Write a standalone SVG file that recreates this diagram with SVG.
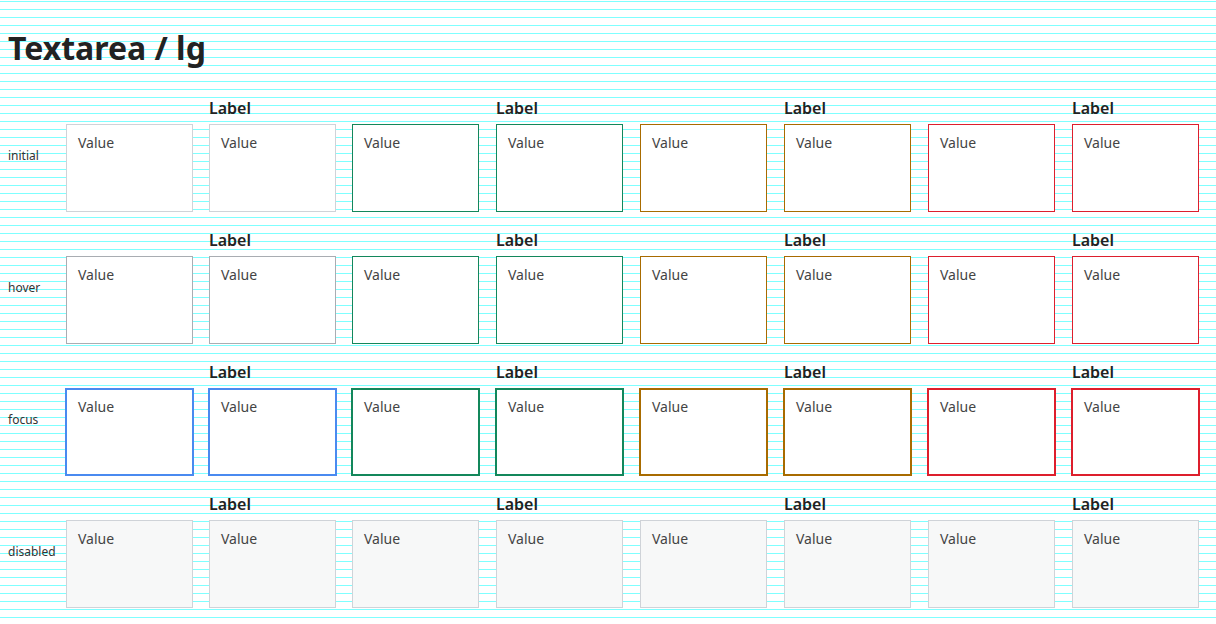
<svg xmlns="http://www.w3.org/2000/svg" width="1216" height="624" viewBox="0 0 1216 624">
<style>
text{font-family:"Noto Sans","Open Sans","DejaVu Sans",sans-serif}
.title{font-size:32px;font-weight:700;fill:#222}
.row{font-size:12px;fill:#333}
.lbl{font-size:16px;font-weight:600;fill:#222}
.val{font-size:14px;fill:#444}
.box{fill:#fff;stroke-width:1}
.n0{stroke:#cfd3d8}
.n1{stroke:#a9adb2}
.nf{stroke:#4a8af0;stroke-width:2}
.ok{stroke:#13875b}
.wa{stroke:#a86b00}
.er{stroke:#dd1f2d}
.f{stroke-width:2}
.dis{fill:#f7f8f8;stroke:#cfd3d8}
</style>
<rect width="1216" height="624" fill="#fff"/>
<g id="grid" fill="#00ffff" fill-opacity="0.5">
<rect x="0" y="1" width="1216" height="1"/><rect x="0" y="9" width="1216" height="1"/><rect x="0" y="17" width="1216" height="1"/><rect x="0" y="25" width="1216" height="1"/><rect x="0" y="33" width="1216" height="1"/><rect x="0" y="41" width="1216" height="1"/><rect x="0" y="49" width="1216" height="1"/><rect x="0" y="57" width="1216" height="1"/><rect x="0" y="65" width="1216" height="1"/><rect x="0" y="73" width="1216" height="1"/><rect x="0" y="81" width="1216" height="1"/><rect x="0" y="89" width="1216" height="1"/><rect x="0" y="97" width="1216" height="1"/><rect x="0" y="105" width="1216" height="1"/><rect x="0" y="113" width="1216" height="1"/><rect x="0" y="121" width="1216" height="1"/><rect x="0" y="129" width="1216" height="1"/><rect x="0" y="137" width="1216" height="1"/><rect x="0" y="145" width="1216" height="1"/><rect x="0" y="153" width="1216" height="1"/><rect x="0" y="161" width="1216" height="1"/><rect x="0" y="169" width="1216" height="1"/><rect x="0" y="177" width="1216" height="1"/><rect x="0" y="185" width="1216" height="1"/><rect x="0" y="193" width="1216" height="1"/><rect x="0" y="201" width="1216" height="1"/><rect x="0" y="209" width="1216" height="1"/><rect x="0" y="217" width="1216" height="1"/><rect x="0" y="225" width="1216" height="1"/><rect x="0" y="233" width="1216" height="1"/><rect x="0" y="241" width="1216" height="1"/><rect x="0" y="249" width="1216" height="1"/><rect x="0" y="257" width="1216" height="1"/><rect x="0" y="265" width="1216" height="1"/><rect x="0" y="273" width="1216" height="1"/><rect x="0" y="281" width="1216" height="1"/><rect x="0" y="289" width="1216" height="1"/><rect x="0" y="297" width="1216" height="1"/><rect x="0" y="305" width="1216" height="1"/><rect x="0" y="313" width="1216" height="1"/><rect x="0" y="321" width="1216" height="1"/><rect x="0" y="329" width="1216" height="1"/><rect x="0" y="337" width="1216" height="1"/><rect x="0" y="345" width="1216" height="1"/><rect x="0" y="353" width="1216" height="1"/><rect x="0" y="361" width="1216" height="1"/><rect x="0" y="369" width="1216" height="1"/><rect x="0" y="377" width="1216" height="1"/><rect x="0" y="385" width="1216" height="1"/><rect x="0" y="393" width="1216" height="1"/><rect x="0" y="401" width="1216" height="1"/><rect x="0" y="409" width="1216" height="1"/><rect x="0" y="417" width="1216" height="1"/><rect x="0" y="425" width="1216" height="1"/><rect x="0" y="433" width="1216" height="1"/><rect x="0" y="441" width="1216" height="1"/><rect x="0" y="449" width="1216" height="1"/><rect x="0" y="457" width="1216" height="1"/><rect x="0" y="465" width="1216" height="1"/><rect x="0" y="473" width="1216" height="1"/><rect x="0" y="481" width="1216" height="1"/><rect x="0" y="489" width="1216" height="1"/><rect x="0" y="497" width="1216" height="1"/><rect x="0" y="505" width="1216" height="1"/><rect x="0" y="513" width="1216" height="1"/><rect x="0" y="521" width="1216" height="1"/><rect x="0" y="529" width="1216" height="1"/><rect x="0" y="537" width="1216" height="1"/><rect x="0" y="545" width="1216" height="1"/><rect x="0" y="553" width="1216" height="1"/><rect x="0" y="561" width="1216" height="1"/><rect x="0" y="569" width="1216" height="1"/><rect x="0" y="577" width="1216" height="1"/><rect x="0" y="585" width="1216" height="1"/><rect x="0" y="593" width="1216" height="1"/><rect x="0" y="601" width="1216" height="1"/><rect x="0" y="609" width="1216" height="1"/><rect x="0" y="617" width="1216" height="1"/>
</g>
<text class="title" x="8" y="60">Textarea / lg</text>

<g id="row-labels">
<text class="row" x="8" y="160">initial</text>
<text class="row" x="8" y="292">hover</text>
<text class="row" x="8" y="424">focus</text>
<text class="row" x="8" y="556">disabled</text>
</g>

<g id="field-labels">
<text class="lbl" x="209" y="114">Label</text><text class="lbl" x="496" y="114">Label</text><text class="lbl" x="784" y="114">Label</text><text class="lbl" x="1072" y="114">Label</text>
<text class="lbl" x="209" y="246">Label</text><text class="lbl" x="496" y="246">Label</text><text class="lbl" x="784" y="246">Label</text><text class="lbl" x="1072" y="246">Label</text>
<text class="lbl" x="209" y="378">Label</text><text class="lbl" x="496" y="378">Label</text><text class="lbl" x="784" y="378">Label</text><text class="lbl" x="1072" y="378">Label</text>
<text class="lbl" x="209" y="510">Label</text><text class="lbl" x="496" y="510">Label</text><text class="lbl" x="784" y="510">Label</text><text class="lbl" x="1072" y="510">Label</text>
</g>

<g id="initial-1"><rect class="box n0" x="66.5" y="124.5" width="126" height="87"/><text class="val" x="78" y="148">Value</text></g>
<g id="initial-2"><rect class="box n0" x="209.5" y="124.5" width="126" height="87"/><text class="val" x="221" y="148">Value</text></g>
<g id="initial-3"><rect class="box ok" x="352.5" y="124.5" width="126" height="87"/><text class="val" x="364" y="148">Value</text></g>
<g id="initial-4"><rect class="box ok" x="496.5" y="124.5" width="126" height="87"/><text class="val" x="508" y="148">Value</text></g>
<g id="initial-5"><rect class="box wa" x="640.5" y="124.5" width="126" height="87"/><text class="val" x="652" y="148">Value</text></g>
<g id="initial-6"><rect class="box wa" x="784.5" y="124.5" width="126" height="87"/><text class="val" x="796" y="148">Value</text></g>
<g id="initial-7"><rect class="box er" x="928.5" y="124.5" width="126" height="87"/><text class="val" x="940" y="148">Value</text></g>
<g id="initial-8"><rect class="box er" x="1072.5" y="124.5" width="126" height="87"/><text class="val" x="1084" y="148">Value</text></g>

<g id="hover-1"><rect class="box n1" x="66.5" y="256.5" width="126" height="87"/><text class="val" x="78" y="280">Value</text></g>
<g id="hover-2"><rect class="box n1" x="209.5" y="256.5" width="126" height="87"/><text class="val" x="221" y="280">Value</text></g>
<g id="hover-3"><rect class="box ok" x="352.5" y="256.5" width="126" height="87"/><text class="val" x="364" y="280">Value</text></g>
<g id="hover-4"><rect class="box ok" x="496.5" y="256.5" width="126" height="87"/><text class="val" x="508" y="280">Value</text></g>
<g id="hover-5"><rect class="box wa" x="640.5" y="256.5" width="126" height="87"/><text class="val" x="652" y="280">Value</text></g>
<g id="hover-6"><rect class="box wa" x="784.5" y="256.5" width="126" height="87"/><text class="val" x="796" y="280">Value</text></g>
<g id="hover-7"><rect class="box er" x="928.5" y="256.5" width="126" height="87"/><text class="val" x="940" y="280">Value</text></g>
<g id="hover-8"><rect class="box er" x="1072.5" y="256.5" width="126" height="87"/><text class="val" x="1084" y="280">Value</text></g>

<g id="focus-1"><rect class="box nf" x="66" y="389" width="127" height="86"/><text class="val" x="78" y="412">Value</text></g>
<g id="focus-2"><rect class="box nf" x="209" y="389" width="127" height="86"/><text class="val" x="221" y="412">Value</text></g>
<g id="focus-3"><rect class="box ok f" x="352" y="389" width="127" height="86"/><text class="val" x="364" y="412">Value</text></g>
<g id="focus-4"><rect class="box ok f" x="496" y="389" width="127" height="86"/><text class="val" x="508" y="412">Value</text></g>
<g id="focus-5"><rect class="box wa f" x="640" y="389" width="127" height="86"/><text class="val" x="652" y="412">Value</text></g>
<g id="focus-6"><rect class="box wa f" x="784" y="389" width="127" height="86"/><text class="val" x="796" y="412">Value</text></g>
<g id="focus-7"><rect class="box er f" x="928" y="389" width="127" height="86"/><text class="val" x="940" y="412">Value</text></g>
<g id="focus-8"><rect class="box er f" x="1072" y="389" width="127" height="86"/><text class="val" x="1084" y="412">Value</text></g>

<g id="disabled-1"><rect class="box dis" x="66.5" y="520.5" width="126" height="87"/><text class="val" x="78" y="544">Value</text></g>
<g id="disabled-2"><rect class="box dis" x="209.5" y="520.5" width="126" height="87"/><text class="val" x="221" y="544">Value</text></g>
<g id="disabled-3"><rect class="box dis" x="352.5" y="520.5" width="126" height="87"/><text class="val" x="364" y="544">Value</text></g>
<g id="disabled-4"><rect class="box dis" x="496.5" y="520.5" width="126" height="87"/><text class="val" x="508" y="544">Value</text></g>
<g id="disabled-5"><rect class="box dis" x="640.5" y="520.5" width="126" height="87"/><text class="val" x="652" y="544">Value</text></g>
<g id="disabled-6"><rect class="box dis" x="784.5" y="520.5" width="126" height="87"/><text class="val" x="796" y="544">Value</text></g>
<g id="disabled-7"><rect class="box dis" x="928.5" y="520.5" width="126" height="87"/><text class="val" x="940" y="544">Value</text></g>
<g id="disabled-8"><rect class="box dis" x="1072.5" y="520.5" width="126" height="87"/><text class="val" x="1084" y="544">Value</text></g>
</svg>
